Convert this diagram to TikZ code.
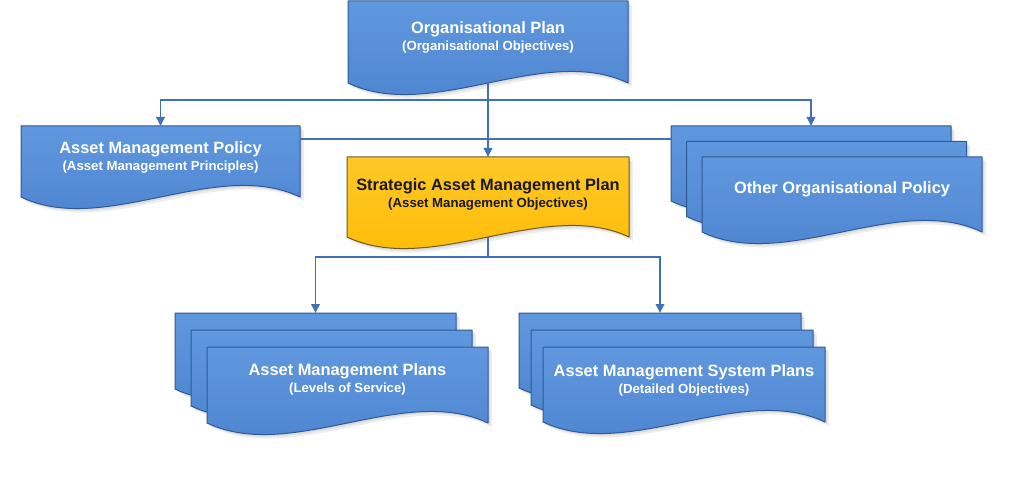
\documentclass[tikz,border=0pt]{standalone}
\usepackage{fontspec}
\setmainfont{Liberation Sans}
\usetikzlibrary{calc,arrows.meta}
\definecolor{bluetop}{HTML}{6098DF}
\definecolor{bluebot}{HTML}{4B81CD}
\definecolor{blueedge}{HTML}{2E5A96}
\definecolor{conn}{HTML}{4170BA}
\definecolor{yeltop}{HTML}{FFC828}
\definecolor{yelbot}{HTML}{FDBA00}
\definecolor{yeledge}{HTML}{6E5A1E}
\newcommand\drawdoc[2]{%
  \begin{scope}[transform canvas={xshift=4pt,yshift=-4pt}]
    \fill[black,opacity=0.07] (#1.north west) -- (#1.north east) -- (#1.south east)
      .. controls ($(#1.south east)!0.3!(#1.south west)+(0,-40)$) and ($(#1.south east)!0.7!(#1.south west)+(0,40)$) .. (#1.south west) -- cycle;
  \end{scope}
  \begin{scope}[transform canvas={xshift=2pt,yshift=-2pt}]
    \fill[black,opacity=0.08] (#1.north west) -- (#1.north east) -- (#1.south east)
      .. controls ($(#1.south east)!0.3!(#1.south west)+(0,-40)$) and ($(#1.south east)!0.7!(#1.south west)+(0,40)$) .. (#1.south west) -- cycle;
  \end{scope}
  \path[#2] (#1.north west) -- (#1.north east) -- (#1.south east)
      .. controls ($(#1.south east)!0.3!(#1.south west)+(0,-40)$) and ($(#1.south east)!0.7!(#1.south west)+(0,40)$) .. (#1.south west) -- cycle;
}
\tikzset{
  boxn/.style={rectangle,draw=none,inner sep=0pt,outer sep=0pt,anchor=north west},
  bluedoc/.style={top color=bluetop,bottom color=bluebot,draw=blueedge,line width=1pt,line join=round},
  yeldoc/.style={top color=yeltop,bottom color=yelbot,draw=yeledge,line width=1pt,line join=round},
  wtext/.style={text=white,font=\bfseries\fontsize{13.2}{17}\selectfont,align=center,inner sep=0pt},
  ktext/.style={wtext,text=black!90},
  conn/.style={draw=conn,line width=1.9pt},
  arr/.style={conn,-{Triangle[length=9pt,width=8.5pt]}}
}
\newcommand\ttlfont{\fontsize{16.4}{17}\selectfont}
\begin{document}
\begin{tikzpicture}[x=1pt,y=-1pt]
\useasboundingbox (0,0) rectangle (1024,478);
\fill[white] (0,0) rectangle (1024,478);
% shapes
\node[boxn,minimum width=280pt,minimum height=82pt] (op) at (348,1) {};
\node[boxn,minimum width=279pt,minimum height=71pt] (amp) at (21,126) {};
\node[boxn,minimum width=282pt,minimum height=80pt] (samp) at (347,157) {};
\node[boxn,minimum width=280pt,minimum height=75pt] (oth3) at (671,126) {};
\node[boxn,minimum width=280pt,minimum height=75pt] (oth2) at (686.5,141.5) {};
\node[boxn,minimum width=280pt,minimum height=75pt] (oth1) at (702,157) {};
\node[boxn,minimum width=281pt,minimum height=76pt] (plan3) at (175,313) {};
\node[boxn,minimum width=281pt,minimum height=76pt] (plan2) at (191,330) {};
\node[boxn,minimum width=281pt,minimum height=76pt] (plan1) at (207,347) {};
\node[boxn,minimum width=282pt,minimum height=75pt] (sys3) at (519,313) {};
\node[boxn,minimum width=282pt,minimum height=75pt] (sys2) at (531,330) {};
\node[boxn,minimum width=282pt,minimum height=75pt] (sys1) at (543,347) {};
\drawdoc{op}{bluedoc}
\drawdoc{amp}{bluedoc}
\drawdoc{samp}{yeldoc}
\drawdoc{oth3}{bluedoc}
\drawdoc{oth2}{bluedoc}
\drawdoc{oth1}{bluedoc}
\drawdoc{plan3}{bluedoc}
\drawdoc{plan2}{bluedoc}
\drawdoc{plan1}{bluedoc}
\drawdoc{sys3}{bluedoc}
\drawdoc{sys2}{bluedoc}
\drawdoc{sys1}{bluedoc}
% connectors
\coordinate (j1) at ($(op.south)+(0,17)$);
\coordinate (j2) at ($(samp.south)+(0,20)$);
\draw[arr] (op.south) -- (samp.north);
\draw[arr] (j1) -| (amp.north);
\draw[arr] (j1) -| (oth3.north);
\draw[conn] ($(amp.north east)+(0,13)$) -- ($(oth3.north west)+(0,13)$);
\draw[conn] (samp.south) -- (j2);
\draw[arr] (j2) -| (plan3.north);
\draw[arr] (j2) -| (sys3.north);
% texts
\node[wtext] (op-t) at (488,37.5) {{\ttlfont Organisational Plan}\\(Organisational Objectives)};
\node[wtext] (amp-t) at (160.5,157.5) {{\ttlfont Asset Management Policy}\\(Asset Management Principles)};
\node[ktext] (samp-t) at (488,194) {{\ttlfont Strategic Asset Management Plan}\\(Asset Management Objectives)};
\node[wtext] (oth-t) at (842,189) {\ttlfont Other Organisational Policy};
\node[wtext] (plan-t) at (347.5,379.5) {{\ttlfont Asset Management Plans}\\(Levels of Service)};
\node[wtext] (sys-t) at (684,380.5) {{\ttlfont Asset Management System Plans}\\(Detailed Objectives)};
\end{tikzpicture}
\end{document}
